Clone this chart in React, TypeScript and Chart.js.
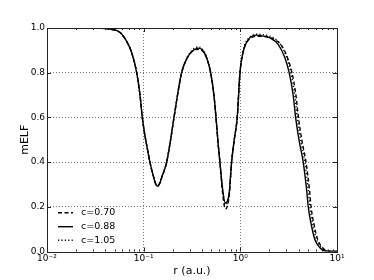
import React, { useEffect, useRef } from "react";
import { Chart, registerables } from "chart.js";

Chart.register(...registerables);

// ---- data ----
const seriesLabels = ["c=0.70", "c=0.88", "c=1.05"];

const rC070 = [0.01, 0.02, 0.035, 0.045, 0.057, 0.0667, 0.0751, 0.0847, 0.0916, 0.0968, 0.103, 0.107, 0.116, 0.126, 0.132, 0.139, 0.146, 0.1535, 0.173, 0.19, 0.206, 0.247, 0.283, 0.316, 0.365, 0.401, 0.448, 0.493, 0.533, 0.56, 0.59, 0.615, 0.656, 0.70, 0.767, 0.812, 0.865, 0.929, 0.991, 1.072, 1.207, 1.55, 1.78, 2.16, 2.64, 3.09, 3.42, 3.76, 3.99, 4.35, 4.78, 5.19, 5.39, 5.84, 6.31, 7.1, 8.0, 10];
const mC070 = [1.0, 1.0, 0.999, 0.995, 0.98, 0.94, 0.89, 0.8, 0.7, 0.6, 0.52, 0.48, 0.4, 0.337, 0.308, 0.295, 0.305, 0.33, 0.4, 0.5, 0.6, 0.8, 0.867, 0.895, 0.905, 0.9, 0.865, 0.8, 0.7, 0.6, 0.48, 0.4, 0.26, 0.19, 0.25, 0.4, 0.5, 0.6, 0.8, 0.893, 0.945, 0.963, 0.962, 0.952, 0.924, 0.865, 0.8, 0.7, 0.6, 0.493, 0.4, 0.277, 0.2, 0.113, 0.054, 0.017, 0.002, 0];

const rC088 = [0.01, 0.02, 0.035, 0.045, 0.057, 0.0667, 0.0751, 0.0847, 0.0916, 0.0968, 0.103, 0.107, 0.116, 0.126, 0.132, 0.139, 0.146, 0.1535, 0.173, 0.19, 0.206, 0.247, 0.283, 0.316, 0.365, 0.401, 0.448, 0.493, 0.533, 0.56, 0.59, 0.615, 0.656, 0.698, 0.767, 0.812, 0.865, 0.929, 0.991, 1.072, 1.207, 1.475, 1.67, 2.02, 2.47, 2.89, 3.2, 3.52, 3.73, 4.07, 4.47, 4.85, 5.04, 5.46, 5.9, 6.65, 7.5, 10];
const mC088 = [1.0, 1.0, 0.999, 0.995, 0.98, 0.94, 0.89, 0.8, 0.7, 0.6, 0.52, 0.48, 0.4, 0.337, 0.305, 0.292, 0.302, 0.33, 0.4, 0.5, 0.6, 0.8, 0.867, 0.895, 0.91, 0.904, 0.867, 0.8, 0.7, 0.6, 0.48, 0.4, 0.277, 0.218, 0.262, 0.4, 0.5, 0.6, 0.8, 0.896, 0.948, 0.968, 0.965, 0.956, 0.926, 0.867, 0.8, 0.7, 0.6, 0.493, 0.4, 0.277, 0.2, 0.113, 0.054, 0.017, 0.002, 0];

const rC105 = [0.01, 0.02, 0.035, 0.045, 0.057, 0.0667, 0.0751, 0.0847, 0.0916, 0.0968, 0.103, 0.107, 0.116, 0.126, 0.132, 0.139, 0.146, 0.1535, 0.173, 0.19, 0.206, 0.247, 0.283, 0.316, 0.365, 0.401, 0.448, 0.493, 0.533, 0.56, 0.59, 0.615, 0.656, 0.698, 0.767, 0.812, 0.865, 0.929, 0.991, 1.072, 1.207, 1.5, 1.72, 2.1, 2.57, 3.01, 3.33, 3.66, 3.88, 4.23, 4.65, 5.04, 5.24, 5.68, 6.14, 6.9, 7.8, 10];
const mC105 = [1.0, 1.0, 0.999, 0.995, 0.98, 0.94, 0.89, 0.8, 0.7, 0.6, 0.52, 0.48, 0.4, 0.337, 0.305, 0.292, 0.302, 0.33, 0.4, 0.5, 0.6, 0.8, 0.87, 0.9, 0.915, 0.908, 0.87, 0.8, 0.7, 0.6, 0.48, 0.4, 0.28, 0.21, 0.26, 0.4, 0.5, 0.6, 0.8, 0.9, 0.952, 0.972, 0.97, 0.96, 0.93, 0.87, 0.8, 0.7, 0.6, 0.493, 0.4, 0.277, 0.2, 0.113, 0.054, 0.017, 0.002, 0];

const xMajorTicks = [0.01, 0.1, 1, 10];
const xTickLabels = ["10\u207B\u00B2", "10\u207B\u00B9", "10\u2070", "10\u00B9"];
const yTicks = [0, 0.2, 0.4, 0.6, 0.8, 1.0];
const xTitle = "r (a.u.)";
const yTitle = "mELF";

const FONT = "'DejaVu Sans', sans-serif";

const framePlugin = {
  id: "frame",
  afterDatasetsDraw(chart: any) {
    const { ctx, chartArea, scales } = chart;
    const { left, right, top, bottom } = chartArea;
    const xs = scales.x;
    const ys = scales.y;
    ctx.save();
    ctx.strokeStyle = "#222";
    ctx.lineWidth = 1;
    ctx.setLineDash([]);
    ctx.strokeRect(Math.round(left) + 0.5, Math.round(top) + 0.5, Math.round(right - left), Math.round(bottom - top));
    ctx.beginPath();
    for (let i = 0; i < xMajorTicks.length; i++) {
      const d = xMajorTicks[i];
      const px = Math.round(xs.getPixelForValue(d)) + 0.5;
      ctx.moveTo(px, bottom); ctx.lineTo(px, bottom - 4);
      ctx.moveTo(px, top); ctx.lineTo(px, top + 4);
      if (i < xMajorTicks.length - 1) {
        for (let m = 2; m <= 9; m++) {
          const mx = Math.round(xs.getPixelForValue(d * m)) + 0.5;
          ctx.moveTo(mx, bottom); ctx.lineTo(mx, bottom - 2);
          ctx.moveTo(mx, top); ctx.lineTo(mx, top + 2);
        }
      }
    }
    for (const v of yTicks) {
      const py = Math.round(ys.getPixelForValue(v)) + 0.5;
      ctx.moveTo(left, py); ctx.lineTo(left + 4, py);
      ctx.moveTo(right, py); ctx.lineTo(right - 4, py);
    }
    ctx.stroke();

    // legend (lower left, inside the axes)
    const rowsY = [212.7, 226.7, 240.2];
    chart.data.datasets.forEach((ds: any, i: number) => {
      const y = rowsY[i];
      ctx.save();
      ctx.strokeStyle = ds.borderColor;
      ctx.lineWidth = ds.borderWidth;
      ctx.setLineDash(ds.borderDash || []);
      ctx.beginPath();
      ctx.moveTo(left + 11, y);
      ctx.lineTo(left + 26, y);
      ctx.stroke();
      ctx.restore();
      ctx.fillStyle = "#000";
      ctx.font = `9.5px ${FONT}`;
      ctx.textBaseline = "middle";
      ctx.textAlign = "left";
      ctx.fillText(ds.label, left + 34, y);
    });
    ctx.restore();
  },
};

export default function App() {
  const ref = useRef<HTMLCanvasElement | null>(null);
  useEffect(() => {
    if (!ref.current) return;
    const mk = (rs: number[], ms: number[]) => rs.map((r, i) => ({ x: r, y: ms[i] }));
    const chart = new Chart(ref.current, {
      type: "line",
      data: {
        datasets: [
          { label: seriesLabels[0], data: mk(rC070, mC070), borderColor: "#000", borderWidth: 1.4, borderDash: [4, 2.5], pointRadius: 0, fill: false, cubicInterpolationMode: "monotone" },
          { label: seriesLabels[1], data: mk(rC088, mC088), borderColor: "#000", borderWidth: 1.4, borderDash: [], pointRadius: 0, fill: false, cubicInterpolationMode: "monotone" },
          { label: seriesLabels[2], data: mk(rC105, mC105), borderColor: "#000", borderWidth: 1.4, borderDash: [1.2, 2.2], pointRadius: 0, fill: false, cubicInterpolationMode: "monotone" },
        ],
      },
      options: {
        animation: false,
        responsive: false,
        maintainAspectRatio: false,
        layout: { padding: { top: 28, right: 37, bottom: 0, left: 0 } },
        plugins: { legend: { display: false }, tooltip: { enabled: false } },
        scales: {
          x: {
            type: "logarithmic",
            min: 0.01,
            max: 10,
            afterBuildTicks: (axis: any) => { axis.ticks = xMajorTicks.map((v) => ({ value: v })); },
            afterFit: (s: any) => { s.height = 28.5; },
            ticks: {
              autoSkip: false,
              maxRotation: 0,
              padding: 2,
              color: "#000",
              font: { family: FONT, size: 9 },
              callback: (v: any) => { const i = xMajorTicks.indexOf(Number(v)); return i >= 0 ? xTickLabels[i] : ""; },
            },
            grid: {
              drawTicks: false,
              color: (c: any) => (c.index === 0 || c.index === xMajorTicks.length - 1 ? "rgba(0,0,0,0)" : "#777"),
              lineWidth: 1,
            },
            border: { display: false, dash: [1, 2] },
            title: { display: true, text: xTitle, color: "#000", font: { family: FONT, size: 11 }, padding: { top: 0, bottom: 2 } },
          },
          y: {
            min: 0,
            max: 1,
            afterBuildTicks: (axis: any) => { axis.ticks = yTicks.map((v) => ({ value: v })); },
            afterFit: (s: any) => { s.width = 47; },
            ticks: {
              padding: 2,
              color: "#000",
              font: { family: FONT, size: 9 },
              callback: (v: any) => Number(v).toFixed(1),
            },
            grid: {
              drawTicks: false,
              color: (c: any) => (c.index === 0 || c.index === yTicks.length - 1 ? "rgba(0,0,0,0)" : "#777"),
              lineWidth: 1,
            },
            border: { display: false, dash: [1, 2] },
            title: { display: true, text: yTitle, color: "#000", font: { family: FONT, size: 11 }, padding: { top: 19, bottom: 0 } },
          },
        },
      },
      plugins: [framePlugin],
    });
    return () => chart.destroy();
  }, []);
  return (
    <div style={{ position: "fixed", left: 0, top: 0, width: 374, height: 280, background: "#fff" }}>
      <canvas ref={ref} width={374} height={280} style={{ width: 374, height: 280, display: "block" }} />
    </div>
  );
}
